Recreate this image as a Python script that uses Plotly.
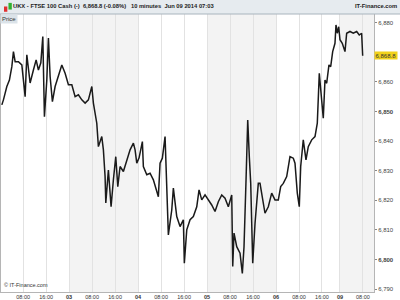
import plotly.graph_objects as go

# ---- data (session hours since Jun 02 00:00, weekend compressed) ----
hours = [0.59, 1.15, 2.33, 3.23, 4.07, 4.63, 5.22, 6.37, 7.55, 8.70, 9.29, 10.43, 11.58, 12.52,
         13.32, 14.16, 14.85, 15.41, 16.24, 16.80, 17.39, 18.19, 19.13, 20.28, 21.46, 22.61,
         23.76, 24.94, 26.09, 27.23, 28.42, 29.57, 30.71, 31.90, 32.45, 33.63, 34.19, 35.37,
         35.93, 36.52, 36.77, 37.67, 38.61, 39.41, 40.24, 40.94, 41.74, 42.89, 44.07, 45.22,
         46.37, 46.96, 47.55, 48.35, 49.50, 49.84, 51.03, 52.17, 53.32, 54.50, 55.06, 55.65,
         56.45, 57.39, 57.98, 58.54, 59.72, 60.28, 61.46, 62.61, 63.76, 64.10, 64.94, 66.09,
         67.23, 68.42, 69.22, 70.16, 71.30, 72.45, 73.63, 74.78, 75.93, 77.11, 78.26, 79.41,
         80.59, 80.94, 81.39, 82.33, 83.48, 84.28, 84.87, 85.57, 86.16, 86.71, 87.20, 87.90,
         88.70, 89.84, 90.43, 92.17, 93.32, 94.50, 95.65, 96.80, 97.63, 98.54, 99.72, 100.87,
         102.02, 102.61, 103.41, 104.10, 104.59, 105.49, 106.43, 107.23, 108.42, 109.57,
         110.37, 111.06, 111.65, 112.45, 113.04, 113.63, 114.43, 115.03, 115.72, 116.52,
         116.87, 117.32, 117.81, 118.26, 119.06, 120.00, 120.59, 121.74, 122.89, 124.07,
         124.97, 125.80, 126.16]
prices = [6852.2, 6853.9, 6858.4, 6860.6, 6865.1, 6870.2, 6866.8, 6866.8, 6865.7, 6855.0,
          6869.1, 6859.6, 6864.0, 6867.4, 6864.0, 6866.4, 6875.3, 6848.2, 6860.6, 6874.8,
          6861.8, 6853.3, 6858.4, 6862.3, 6865.7, 6862.9, 6859.0, 6859.0, 6855.0, 6855.6,
          6853.9, 6852.8, 6853.9, 6858.4, 6852.8, 6846.0, 6838.1, 6841.5, 6837.0, 6828.0,
          6819.1, 6830.2, 6817.8, 6826.9, 6834.7, 6824.6, 6831.4, 6829.7, 6833.6, 6837.0,
          6839.3, 6837.0, 6832.5, 6834.3, 6839.8, 6831.4, 6828.6, 6829.1, 6826.9, 6823.5,
          6821.2, 6832.5, 6834.2, 6841.5, 6826.9, 6808.3, 6816.7, 6824.1, 6814.5, 6811.1,
          6813.4, 6798.7, 6810.0, 6813.4, 6814.5, 6817.8, 6823.5, 6820.1, 6821.8, 6820.1,
          6818.4, 6816.2, 6819.5, 6821.8, 6820.7, 6817.8, 6821.8, 6797.6, 6808.9, 6804.3,
          6802.1, 6795.3, 6804.3, 6826.9, 6847.1, 6834.7, 6825.7, 6798.7, 6812.2, 6825.7,
          6825.7, 6815.6, 6817.8, 6822.4, 6820.1, 6820.1, 6824.6, 6825.7, 6828.0, 6834.7,
          6834.2, 6832.5, 6822.4, 6817.8, 6831.4, 6840.4, 6833.6, 6838.1, 6840.4, 6841.5,
          6846.0, 6862.9, 6855.0, 6847.7, 6860.6, 6859.5, 6865.7, 6865.1, 6870.2, 6873.0,
          6879.2, 6876.4, 6878.6, 6874.2, 6873.0, 6870.2, 6876.4, 6877.0, 6876.4, 6877.0,
          6875.8, 6876.4, 6868.8]

last_price = 6868.8
x_tickvals = [8, 16, 24, 32, 40, 48, 56, 64, 72, 80, 88, 96, 104, 112, 118.25, 126.25]
x_ticktext = ["08:00", "16:00", "<b>03</b>", "08:00", "16:00", "<b>04</b>", "08:00", "16:00",
              "<b>05</b>", "08:00", "16:00", "<b>06</b>", "08:00", "16:00", "<b>09</b>", "08:00"]
y_tickvals = [6790, 6800, 6810, 6820, 6830, 6840, 6850, 6860, 6870, 6880]
# the 6,870 label is hidden behind the last-price marker in the reference
y_ticktext = ["6,790", "<b>6,800</b>", "6,810", "6,820", "6,830", "6,840", "<b>6,850</b>",
              "6,860", "", "6,880"]
shaded_days = [(24, 48), (72, 96), (118.25, 131)]

FONT = "Liberation Sans"

fig = go.Figure()
fig.add_trace(go.Scatter(x=hours, y=prices, mode="lines",
                         line=dict(color="#1a1a1a", width=1.5), hoverinfo="skip"))

shapes = []
for a, b in shaded_days:
    shapes.append(dict(type="rect", xref="x", yref="paper", x0=a, x1=b, y0=0, y1=1,
                       fillcolor="#f3f3f3", line=dict(width=0), layer="below"))
# header bar
shapes.append(dict(type="rect", xref="paper", yref="paper", x0=-0.01, x1=1.08, y0=1.0, y1=1.06,
                   fillcolor="#e6ebef", line=dict(width=0)))
shapes.append(dict(type="line", xref="paper", yref="paper", x0=-0.01, x1=1.08, y0=1.0, y1=1.0,
                   line=dict(color="#a9b4bd", width=1)))
# small candle icon
shapes.append(dict(type="rect", xref="paper", yref="paper", x0=0.008, x1=0.017, y0=1.008, y1=1.027,
                   fillcolor="#e03030", line=dict(width=0)))
shapes.append(dict(type="rect", xref="paper", yref="paper", x0=0.020, x1=0.029, y0=1.016, y1=1.040,
                   fillcolor="#30b030", line=dict(width=0)))

annotations = [
    dict(text="<b>UKX - FTSE 100 Cash (-)  6,868.8 (-0.08%)   10 minutes  Jun 09 2014 07:03</b>",
         xref="paper", yref="paper", x=0.028, y=1.030, xanchor="left", yanchor="middle",
         showarrow=False, font=dict(family=FONT, size=5.8, color="#222")),
    dict(text="<b>IT-Finance.com</b>", xref="paper", yref="paper", x=1.067, y=1.030,
         xanchor="right", yanchor="middle", showarrow=False,
         font=dict(family=FONT, size=5.8, color="#222")),
    dict(text="Price", xref="paper", yref="paper", x=-0.003, y=1.0, xanchor="left", yanchor="top",
         showarrow=False, bgcolor="#dbe3e9", borderpad=1,
         font=dict(family=FONT, size=6, color="#333")),
    dict(text="© IT-Finance.com", xref="paper", yref="paper", x=0.002, y=0.008, xanchor="left",
         yanchor="bottom", showarrow=False, font=dict(family=FONT, size=5.5, color="#333")),
    dict(text=f"{last_price:,.1f}", xref="paper", yref="y", x=1.001, y=last_price, xanchor="left",
         yanchor="middle", showarrow=False, bgcolor="#f2d21b", borderpad=0.5,
         font=dict(family=FONT, size=6, color="#333")),
]

fig.update_layout(
    width=400, height=300,
    margin=dict(l=1, r=26, t=14, b=8),
    paper_bgcolor="white", plot_bgcolor="white",
    showlegend=False,
    shapes=shapes, annotations=annotations,
    font=dict(family=FONT, size=6, color="#444"),
    xaxis=dict(range=[0.3, 130.1], tickmode="array", tickvals=x_tickvals, ticktext=x_ticktext,
               showgrid=True, gridcolor="#e2e2e2", gridwidth=1, zeroline=False,
               showline=True, linecolor="#b5b5b5", mirror=True, ticks="",
               tickfont=dict(family=FONT, size=5.5, color="#333"), ticklabelstandoff=-1),
    yaxis=dict(range=[6789.0, 6882.9], side="right", tickmode="array", tickvals=y_tickvals,
               ticktext=y_ticktext, showgrid=False, zeroline=False,
               showline=True, linecolor="#b5b5b5", mirror=True,
               ticks="outside", ticklen=2, tickcolor="#888",
               tickfont=dict(family=FONT, size=6, color="#444")),
)

fig.write_html("out.html")
